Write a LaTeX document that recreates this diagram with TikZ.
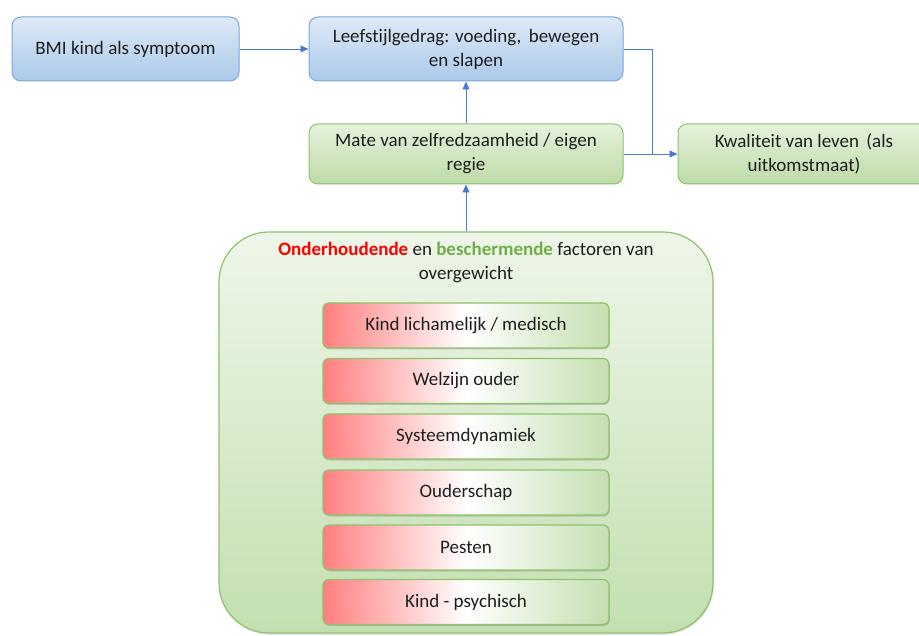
\documentclass[tikz,border=0pt]{standalone}
\usepackage{fontspec}
\setmainfont[Ligatures=NoCommon]{Carlito}
\usetikzlibrary{arrows.meta,shadows}
\definecolor{bluetop}{HTML}{DDEAF7}
\definecolor{bluebot}{HTML}{ABC9EA}
\definecolor{blueline}{HTML}{7BA7DA}
\definecolor{greentop}{HTML}{E5F1DC}
\definecolor{greenbot}{HTML}{BDDBA7}
\definecolor{greenline}{HTML}{8EC26C}
\definecolor{bigtop}{HTML}{EEF6E9}
\definecolor{bigbot}{HTML}{C3DFB0}
\definecolor{redl}{HTML}{FF7F7F}
\definecolor{greenr}{HTML}{C4DFB1}
\definecolor{arrowc}{HTML}{4A7CCB}
\definecolor{txtred}{HTML}{FF0000}
\definecolor{txtgreen}{HTML}{70AD47}
\definecolor{txt}{HTML}{1E1E1E}
\pgfdeclarehorizontalshading{factorshade}{100bp}{color(0bp)=(redl); color(25bp)=(redl); color(50bp)=(white); color(75bp)=(greenr); color(100bp)=(greenr)}
\begin{document}
\begin{tikzpicture}[x=1pt,y=-1pt,
  font=\fontsize{19}{24}\selectfont, text=txt,
  bluebox/.style={draw=blueline, line width=1pt, rounded corners=9pt, top color=bluetop, bottom color=bluebot, align=center, inner sep=0pt},
  greenbox/.style={draw=greenline, line width=1pt, rounded corners=9pt, top color=greentop, bottom color=greenbot, align=center, inner sep=0pt},
  factor/.style={draw=greenline, line width=1.2pt, rounded corners=6pt, shading=factorshade, minimum width=286pt, minimum height=45pt, inner sep=0pt, drop shadow={shadow xshift=0.8pt, shadow yshift=-1.5pt, opacity=0.35}},
  conn/.style={draw=arrowc, line width=0.8pt, -{Triangle[length=8pt,width=7pt]}},
  line/.style={draw=arrowc, line width=0.8pt}
]
\useasboundingbox (0,0) rectangle (919,636);
\clip (0,0) rectangle (919,636);
\fill[white] (0,0) rectangle (919,636);

\node[bluebox, minimum width=227pt, minimum height=64pt] (bmi) at (125.5,49) {BMI kind als symptoom};
\node[bluebox, minimum width=314pt, minimum height=64pt] (leef) at (466,49) {Leefstijlgedrag: voeding,\, bewegen\\en slapen};
\node[greenbox, minimum width=314pt, minimum height=60pt] (mate) at (466,154) {Mate van zelfredzaamheid / eigen\\regie};
\node[greenbox, minimum width=252pt, minimum height=60pt] (kwal) at (804,154) {Kwaliteit van leven\, (als\\uitkomstmaat)};

\node[draw=greenline, line width=1.2pt, rounded corners=50pt, top color=bigtop, bottom color=bigbot, minimum width=494pt, minimum height=401pt, inner sep=0pt, drop shadow={shadow xshift=0.8pt, shadow yshift=-1.5pt, opacity=0.25}] (big) at (466,432.5) {};
\node[align=center] (title) at (466,262) {\textbf{\color{txtred}Onderhoudende} en \textbf{\color{txtgreen}beschermende} factoren van\\overgewicht};

\node[factor] (f1) at (466,325.5) {Kind lichamelijk / medisch};
\node[factor] (f2) at (466,381) {Welzijn ouder};
\node[factor] (f3) at (466,436.5) {Systeemdynamiek};
\node[factor] (f4) at (466,492.5) {Ouderschap};
\node[factor] (f5) at (466,547.5) {Pesten};
\node[factor] (f6) at (466,602) {Kind - psychisch};

\coordinate (junc) at (652,154);
\draw[conn] (bmi.east) -- (leef.west);
\draw[conn] (mate.north) -- (leef.south);
\draw[conn] (big.north) -- (mate.south);
\draw[line] (leef.east) -| (junc);
\draw[conn] (mate.east) -- (kwal.west);
\end{tikzpicture}
\end{document}
